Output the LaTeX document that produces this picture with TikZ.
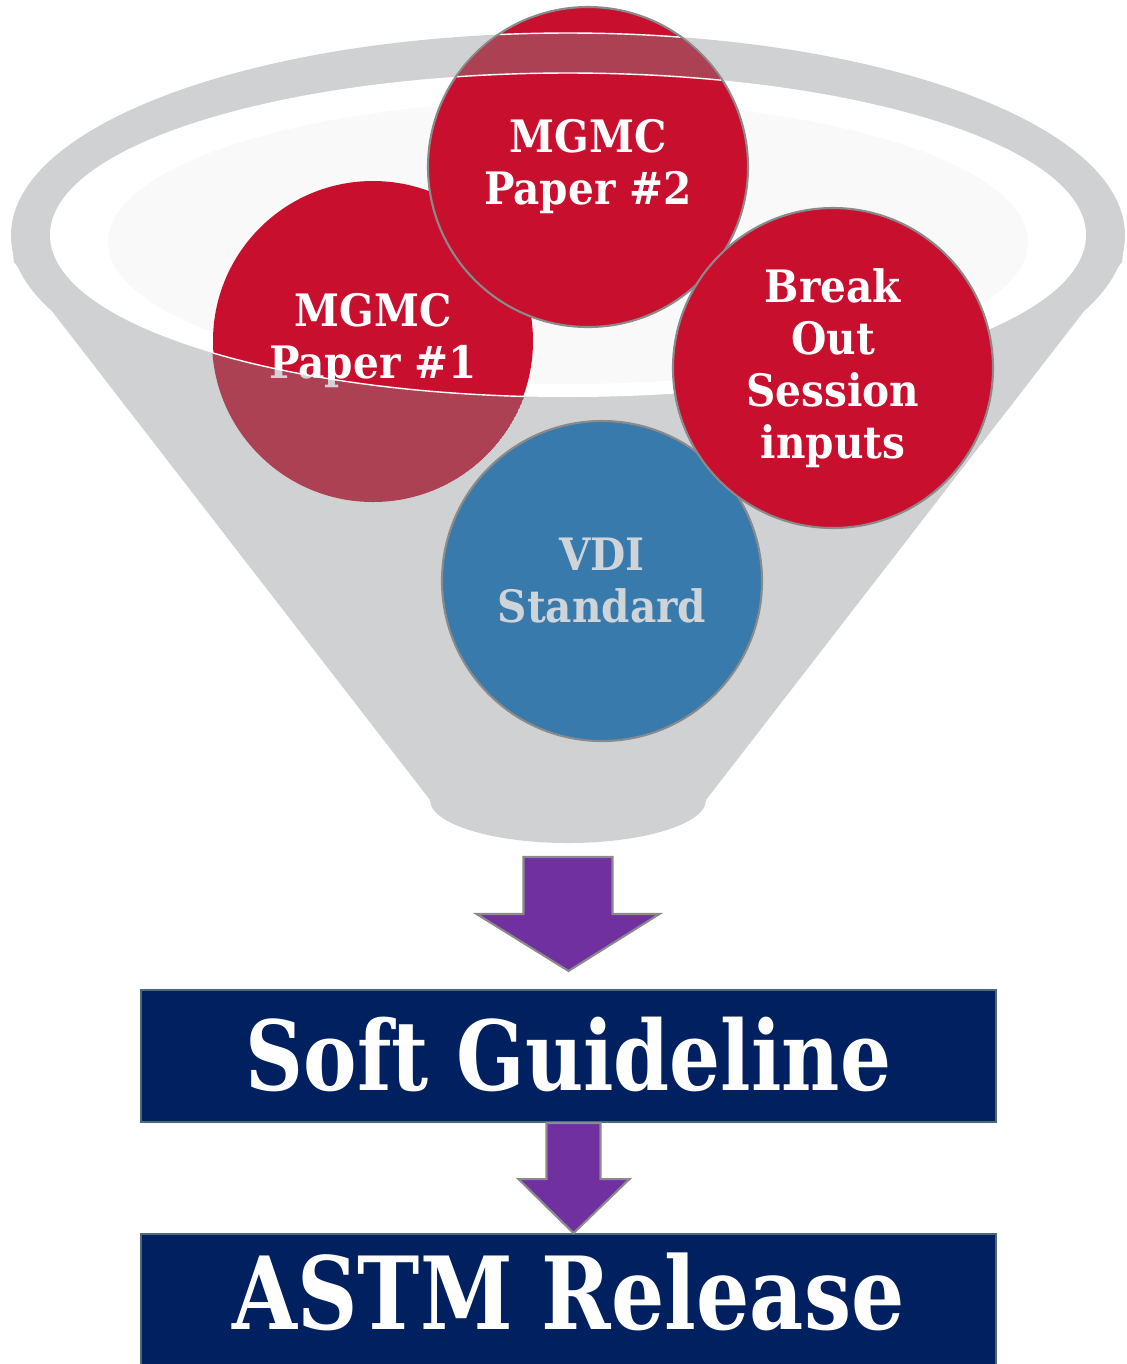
\documentclass[tikz,border=0pt]{standalone}
\usepackage{fontspec}
\setmainfont{DejaVu Serif}
\newfontfamily\condslab[FakeStretch=0.83]{DejaVu Serif}
\newfontfamily\ballfont[FakeStretch=0.91]{DejaVu Serif}
\usetikzlibrary{shapes,positioning}

\definecolor{funnelgray}{HTML}{D0D1D3}
\definecolor{funnelshade}{HTML}{F9F9F9}
\definecolor{ballred}{HTML}{C8102E}
\definecolor{dimred}{HTML}{AD4154}
\definecolor{dimtext}{HTML}{D2D2D4}
\definecolor{ballblue}{HTML}{377AAB}
\definecolor{vditext}{HTML}{CFD4D9}
\definecolor{balledge}{HTML}{8A8A8A}
\definecolor{navy}{HTML}{002060}
\definecolor{boxedge}{HTML}{4D6B74}
\definecolor{arrowpurple}{HTML}{7030A0}

\tikzset{
  redball/.style={circle, fill=ballred, minimum size=3.2cm, inner sep=0pt},
  blueball/.style={circle, fill=ballblue, minimum size=3.2cm, inner sep=0pt},
  edged/.style={draw=balledge, line width=0.6pt},
  balltext/.style={text=white, align=center,
                   font=\ballfont\bfseries\fontsize{12.7}{14.8}\selectfont},
  rimline/.style={draw=white, line width=0.4pt},
  navybox/.style={rectangle, fill=navy, draw=boxedge, line width=0.6pt,
                  minimum width=8.55cm, minimum height=1.32cm},
  boxtext/.style={text=white, font=\condslab\bfseries\fontsize{27.5}{32}\selectfont},
  blockarrow/.style={fill=arrowpurple, draw=balledge, line width=0.6pt}
}

\begin{document}
\begin{tikzpicture}

    \useasboundingbox (0,0) rectangle (11.27,-13.64);

    % funnel
    \fill[funnelgray] (5.68,-2.35) ellipse (5.57 and 2.02);
    \fill[funnelgray] (0.11,-2.35) -- (0.14,-2.62) -- (4.30,-8.00)
        arc[start angle=180, end angle=360, x radius=1.38, y radius=0.43]
        -- (11.22,-2.62) -- (11.25,-2.35) -- cycle;
    \fill[white] (5.68,-2.35) ellipse (5.18 and 1.62);
    \fill[funnelshade] (5.68,-2.42) ellipse (4.60 and 1.42);

    % paper 1, partly behind the rim
    \node[redball] (paperA) at (3.73,-3.41) {};
    \node[balltext] at (paperA.center) {MGMC\\Paper \#1};
    \begin{scope}
        \clip (paperA.center) circle (1.61);
        \begin{scope}
            \clip (0,-2.35) -- (0.50,-2.35)
                arc[start angle=180, end angle=360, x radius=5.18, y radius=1.62]
                -- (11.27,-2.35) -- (11.27,-13.64) -- (0,-13.64) -- cycle;
            \fill[dimred] (paperA.center) circle (1.61);
            \node[balltext, text=dimtext] at (paperA.center) {MGMC\\Paper \#1};
        \end{scope}
        \draw[rimline] (5.68,-2.35) ellipse (5.18 and 1.62);
    \end{scope}

    % paper 2, crossed by the rim
    \node[redball, edged] (paperB) at (5.88,-1.67) {};
    \node[balltext] at (paperB.center) {MGMC\\Paper \#2};
    \begin{scope}
        \clip (paperB.center) circle (1.59);
        \fill[dimred] (0.11,-2.35)
            arc[start angle=180, end angle=0, x radius=5.57, y radius=2.02]
            -- (10.86,-2.35)
            arc[start angle=0, end angle=180, x radius=5.18, y radius=1.62] -- cycle;
        \draw[rimline] (0.11,-2.35)
            arc[start angle=180, end angle=0, x radius=5.57, y radius=2.02];
        \draw[rimline] (5.68,-2.35) ellipse (5.18 and 1.62);
    \end{scope}

    \node[blueball, edged] (vdi) at (6.02,-5.81) {};
    \node[balltext, text=vditext] at (vdi.center) {VDI\\Standard};

    \node[redball, edged] (breakout) at (8.33,-3.68) {};
    \node[balltext] at (breakout.center) {Break\\Out\\Session\\inputs};

    % outcome boxes
    \node[navybox] (soft) at (5.685,-10.56) {};
    \node[boxtext] at ([yshift=0.02cm]soft.center) {Soft Guideline};

    \node[navybox, below=1.10cm of soft] (astm) {};
    \node[boxtext, font=\condslab\bfseries\fontsize{28.7}{34}\selectfont]
        at ([yshift=0.08cm]astm.center) {ASTM Release};

    % arrows
    \coordinate (tipA) at ([yshift=0.18cm]soft.north);
    \draw[blockarrow] (tipA) -- ++(-0.92,0.57) -- ++(0.47,0) -- ++(0,0.57)
        -- ++(0.89,0) -- ++(0,-0.57) -- ++(0.47,0) -- cycle;

    \draw[blockarrow] ([xshift=0.05cm]astm.north) -- ++(-0.55,0.54) -- ++(0.28,0)
        -- ++(0,0.56) -- ++(0.54,0) -- ++(0,-0.56) -- ++(0.29,0) -- cycle;

\end{tikzpicture}
\end{document}
